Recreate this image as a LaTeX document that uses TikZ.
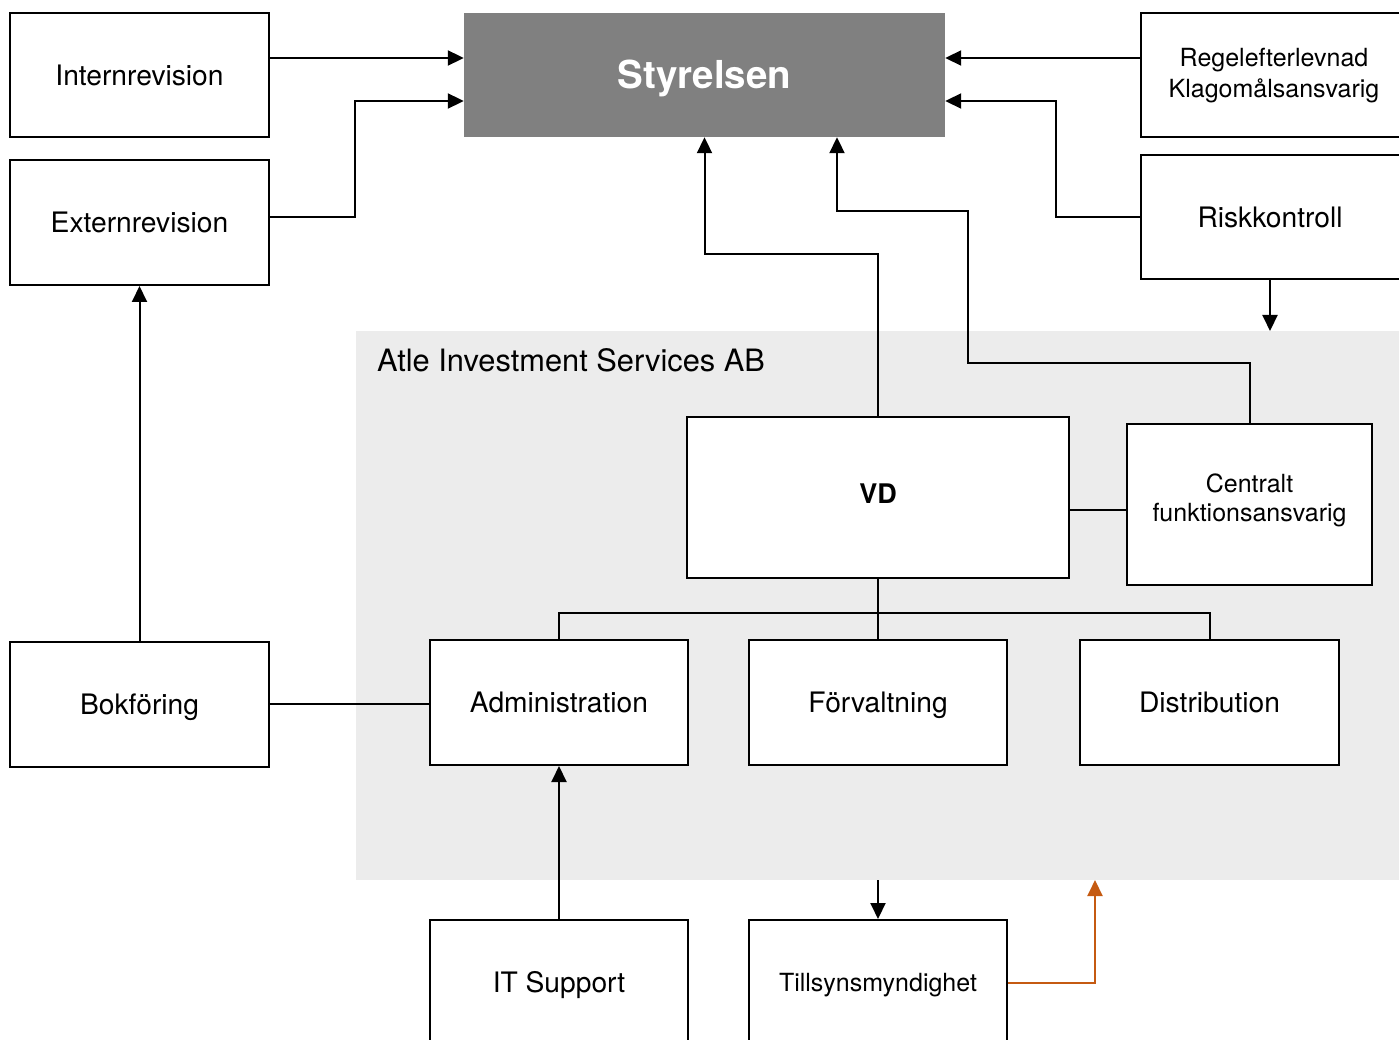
\documentclass[tikz,border=0pt]{standalone}
\usepackage{fontspec}
\setmainfont{TeX Gyre Heros}
\usetikzlibrary{arrows.meta}
\definecolor{regiongray}{HTML}{ECECEC}
\definecolor{boardgray}{HTML}{808080}
\definecolor{orangeline}{HTML}{C55A11}
\newcommand{\tx}[2]{\raisebox{#1}[0pt][0pt]{#2}}
\begin{document}
\begin{tikzpicture}[x=1pt,y=-1pt,
  box/.style={draw=black,line width=2pt,fill=white,inner sep=0pt,align=center,
    font=\fontsize{28.2}{33}\selectfont},
  smallbox/.style={box,font=\fontsize{25}{31}\selectfont},
  conn/.style={draw=black,line width=2pt},
  arr/.style={conn,-{Triangle[length=16pt,width=15pt]}},
]
\useasboundingbox (0,0) rectangle (1399,1040);
% region
\node[fill=regiongray,inner sep=0pt,minimum width=1060pt,minimum height=549pt,anchor=north west] (atle) at (356,331) {};
\node[anchor=base west,inner sep=0pt,font=\fontsize{30.8}{36}\selectfont] (atlelbl) at (377,371) {Atle Investment Services AB};
% boxes
\node[box,minimum width=259pt,minimum height=124pt] (int) at (139.5,75) {\tx{-10.1pt}{Internrevision}};
\node[box,minimum width=259pt,minimum height=125pt] (ext) at (139.5,222.5) {\tx{-9.6pt}{Externrevision}};
\node[fill=boardgray,inner sep=0pt,minimum width=481pt,minimum height=124pt,text=white,
  font=\fontsize{38.5}{44}\selectfont\bfseries] (sty) at (704.5,75) {\tx{-13.8pt}{Styrelsen}};
\node[smallbox,minimum width=266pt,minimum height=124pt] (reg) at (1274,75) {\tx{8pt}{\begin{tabular}[t]{@{}c@{}}Regelefterlevnad\\Klagomålsansvarig\end{tabular}}};
\node[box,minimum width=259pt,minimum height=124pt] (risk) at (1270,217) {\tx{-10.1pt}{Riskkontroll}};
\node[box,minimum width=382pt,minimum height=161pt,font=\fontsize{27}{32}\selectfont\bfseries] (vd) at (878,497.5) {\tx{-6.2pt}{VD}};
\node[smallbox,minimum width=245pt,minimum height=161pt,font=\fontsize{25}{29.5}\selectfont] (cen) at (1249.5,504.5) {\tx{12.5pt}{\begin{tabular}[t]{@{}c@{}}Centralt\\funktionsansvarig\end{tabular}}};
\node[box,minimum width=258pt,minimum height=125pt] (adm) at (559,702.5) {\tx{-9.6pt}{Administration}};
\node[box,minimum width=258pt,minimum height=125pt] (fv) at (878,702.5) {\tx{-9.6pt}{Förvaltning}};
\node[box,minimum width=259pt,minimum height=125pt] (dist) at (1209.5,702.5) {\tx{-9.6pt}{Distribution}};
\node[box,minimum width=259pt,minimum height=125pt] (bok) at (139.5,704.5) {\tx{-9.6pt}{Bokföring}};
\node[box,minimum width=258pt,minimum height=125pt] (it) at (559,982.5) {\tx{-9.6pt}{IT Support}};
\node[smallbox,minimum width=258pt,minimum height=125pt] (till) at (878,982.5) {\tx{-8.5pt}{Tillsynsmyndighet}};
% connectors
\draw[arr] (int.east |- 0,58) -- (sty.west |- 0,58);
\draw[arr] (ext.east |- 0,217) -| (355,101) -- (sty.west |- 0,101);
\draw[arr] (reg.west |- 0,58) -- (sty.east |- 0,58);
\draw[arr] (risk.west) -| (1056,101) -- (sty.east |- 0,101);
\draw[arr] (risk.south) -- (risk.south |- atle.north);
\draw[arr] (vd.north) |- (sty.south |- 0,254) -- (sty.south);
\draw[arr] (cen.north) |- (968,363) |- (837,211) -- (837,0 |- sty.south);
\draw[conn] (vd.east |- 0,510) -- (cen.west |- 0,510);
\draw[conn] (vd.south) -- (fv.north);
\draw[conn] (adm.north) |- (dist.north |- 0,613) -- (dist.north);
\draw[conn] (bok.east |- 0,704) -- (adm.west |- 0,704);
\draw[arr] (bok.north) -- (ext.south);
\draw[arr] (it.north) -- (adm.south);
\draw[arr] (till.north |- atle.south) -- (till.north);
\coordinate (orgtip) at (1095,880);
\draw[arr,draw=orangeline] (till.east) -| (orgtip);
\end{tikzpicture}
\end{document}
